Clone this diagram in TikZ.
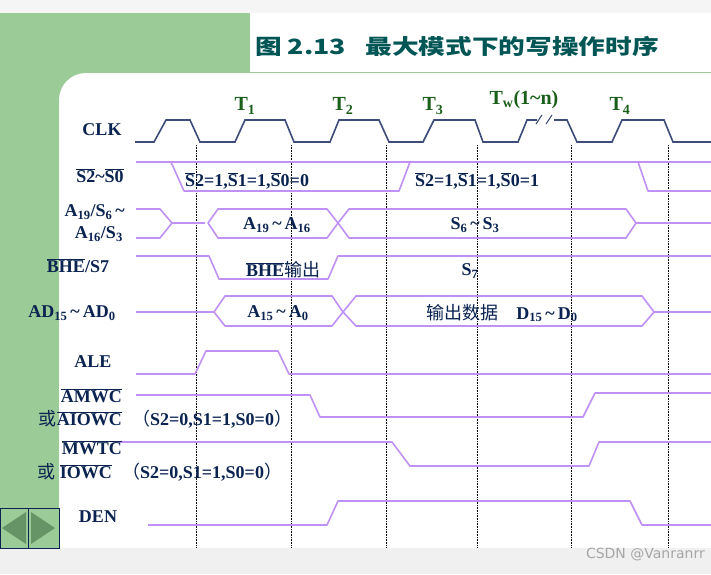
\documentclass[tikz,border=0pt]{standalone}
\usepackage{fontspec}
\setmainfont{Liberation Serif}
\newfontfamily\cjk{Noto Sans CJK SC}
\newcommand{\ovl}[1]{$\overline{\mbox{#1}}$}
\definecolor{sig}{RGB}{192,145,245}
\definecolor{clkc}{RGB}{60,75,120}
\definecolor{lab}{RGB}{10,35,80}
\definecolor{tgreen}{RGB}{25,95,25}
\definecolor{ttl}{RGB}{0,85,85}
\definecolor{bgg}{RGB}{155,203,150}
\tikzset{
  sigline/.style={draw=sig,line width=1.6pt,line join=round},
  clkline/.style={draw=clkc,line width=1.6pt},
  lbl/.style={text=lab,font=\bfseries\fontsize{18}{18}\selectfont,inner sep=0pt},
  tl/.style={text=tgreen,font=\bfseries\fontsize{20}{20}\selectfont,inner sep=0pt},
  grid/.style={draw=black,densely dotted,line width=0.6pt}
}
\begin{document}
\begin{tikzpicture}[x=1pt,y=-1pt]
\useasboundingbox (0,0) rectangle (711,574);
\fill[gray!8] (0,0) rectangle (711,574);
\fill[bgg] (0,13) rectangle (250,548);
\fill[white] (250,13) rectangle (711,73);
\fill[white] (59,548) -- (59,100) arc[start angle=180,end angle=270,radius=27] -- (711,73) -- (711,548) -- cycle;
\draw[bgg,line width=1pt] (250,72.5) -- (711,72.5);
\fill[gray!12] (0,548) rectangle (711,574);
\node[text=ttl,anchor=west,inner sep=0pt,font=\cjk\bfseries\fontsize{21}{21}\selectfont] (title) at (255,46) {\scalebox{1.27}[1]{图\ 2.13\enspace\ 最大模式下的写操作时序}};
% nav
\draw[draw=lab,line width=1pt,fill=bgg] (0,508) rectangle (59,548);
\draw[draw=lab,line width=1pt] (28.5,508) -- (28.5,548);
\fill[green!30!black!60] (2,528) -- (26,512) -- (26,544) -- cycle;
\fill[green!30!black!60] (31,512) -- (55,528) -- (31,544) -- cycle;
% grid
\foreach \x in {196,291,386,477,571,668} \draw[grid] (\x,145) -- (\x,548);
% CLK
\draw[clkline] (135,142) -- (154,142) -- (166,120) -- (190,120) -- (200,142) -- (235,142) -- (245,120) -- (285,120) -- (294,142) -- (330,142) -- (339,120) -- (379,120) -- (389,142) -- (423,142) -- (434,120) -- (475,120) -- (483,142) -- (518,142) -- (527,120) -- (537,120);
\draw[clkline] (554,120) -- (567,120) -- (577,142) -- (612,142) -- (622,120) -- (664,120) -- (673,142) -- (711,142);
\draw[clkline,line width=1pt] (536,124) -- (542,115) (546,124) -- (552,115);
\node[tl] (t1) at (245,106) {T$_{\mathbf 1}$};
\node[tl] (t2) at (343,106) {T$_{\mathbf 2}$};
\node[tl] (t3) at (433,106) {T$_{\mathbf 3}$};
\node[tl] (tw) at (524,100) {T$_{\mathbf w}$(1\textasciitilde n)};
\node[tl] (t4) at (620,106) {T$_{\mathbf 4}$};
% S2~S0
\draw[sigline] (136,162) -- (711,162);
\draw[sigline] (171,162) -- (184,191) -- (399,191) -- (410,162);
\draw[sigline] (638,162) -- (648,191) -- (711,191);
\node[lbl,anchor=west] (s1) at (185,181) {\ovl{S}2=1,\ovl{S}1=1,\ovl{S}0=0};
\node[lbl,anchor=west] (s2) at (415,181) {\ovl{S}2=1,\ovl{S}1=1,\ovl{S}0=1};
% A19
\draw[sigline] (136,209) -- (160,209) -- (172,223) -- (160,238) -- (136,238);
\draw[sigline] (172,223) -- (205,223);
\draw[sigline] (349,209) -- (338,223) -- (327,238) -- (218,238) -- (208,223) -- (218,209) -- (327,209) -- (338,223) -- (349,238) -- (626,238) -- (636,223) -- (626,209) -- cycle;
\draw[sigline] (636,223) -- (711,223);
\node[lbl] (a1) at (277,225) {A$_{\mathbf{19}}$\,\textasciitilde\,A$_{\mathbf{16}}$};
\node[lbl] (a2) at (475,225) {S$_{\mathbf 6}$\,\textasciitilde\,S$_{\mathbf 3}$};
% BHE
\draw[sigline] (136,256) -- (209,256) -- (219,279) -- (328,279) -- (338,256) -- (711,256);
\node[lbl,anchor=west] (b1) at (246,270) {\ovl{BHE}{\cjk\mdseries 输出}};
\node[lbl] (b2) at (470,271) {S$_{\mathbf 7}$};
% AD
\draw[sigline] (136,312) -- (214,312);
\draw[sigline] (356,296) -- (343,312) -- (332,326) -- (225,326) -- (214,312) -- (225,296) -- (332,296) -- (343,312) -- (356,326) -- (642,326) -- (654,312) -- (642,296) -- cycle;
\draw[sigline] (654,312) -- (711,312);
\node[lbl] (d1) at (278,313) {A$_{\mathbf{15}}$\,\textasciitilde\,A$_{\mathbf 0}$};
\node[lbl] (d2) at (502,313) {{\cjk\mdseries 输出数据}\quad D$_{\mathbf{15}}$\,\textasciitilde\,D$_{\mathbf 0}$};
% ALE
\draw[sigline] (136,374) -- (195,374) -- (206,351) -- (278,351) -- (289,374) -- (711,374);
% AMWC
\draw[sigline] (136,395) -- (310,395) -- (320,417) -- (583,417) -- (595,393) -- (711,393);
% MWTC
\draw[sigline] (119,442) -- (392,442) -- (410,466) -- (589,466) -- (599,442) -- (711,442);
% DEN
\draw[sigline] (148,525) -- (327,525) -- (338,501) -- (630,501) -- (642,525) -- (711,525);
% labels
\node[lbl] (lclk) at (102,130) {CLK};
\node[lbl] (ls) at (100,176) {\ovl{S2}\textasciitilde\ovl{S0}};
\node[lbl,anchor=east] (la1) at (125,212) {A$_{\mathbf{19}}$/S$_{\mathbf 6}$\,\textasciitilde};
\node[lbl,anchor=east] (la2) at (123,234) {A$_{\mathbf{16}}$/S$_{\mathbf 3}$};
\node[lbl] (lb) at (78,266) {\ovl{BHE}/S7};
\node[lbl] (lad) at (72,313) {AD$_{\mathbf{15}}$\,\textasciitilde\,AD$_{\mathbf 0}$};
\node[lbl] (lale) at (93,362) {ALE};
\node[lbl,anchor=east] (lam) at (122,396) {\ovl{AMWC}};
\node[lbl,anchor=east] (lai) at (122,419) {{\cjk\mdseries 或}\ovl{AIOWC}};
\node[lbl,anchor=west] (lc1) at (132,419) {{\cjk\mdseries （}S2=0,S1=1,S0=0{\cjk\mdseries ）}};
\node[lbl,anchor=east] (lmw) at (122,448) {\ovl{MWTC}};
\node[lbl,anchor=east] (liw) at (112,472) {{\cjk\mdseries 或}\ \ovl{IOWC}};
\node[lbl,anchor=west] (lc2) at (122,472) {{\cjk\mdseries （}S2=0,S1=1,S0=0{\cjk\mdseries ）}};
\node[lbl] (lden) at (98,517) {DEN};
\node[text=gray!70,font=\fontspec{DejaVu Sans}\fontsize{14}{14}\selectfont,anchor=east,inner sep=0pt] (wm) at (705,555) {CSDN @Vanranrr};
\end{tikzpicture}
\end{document}
